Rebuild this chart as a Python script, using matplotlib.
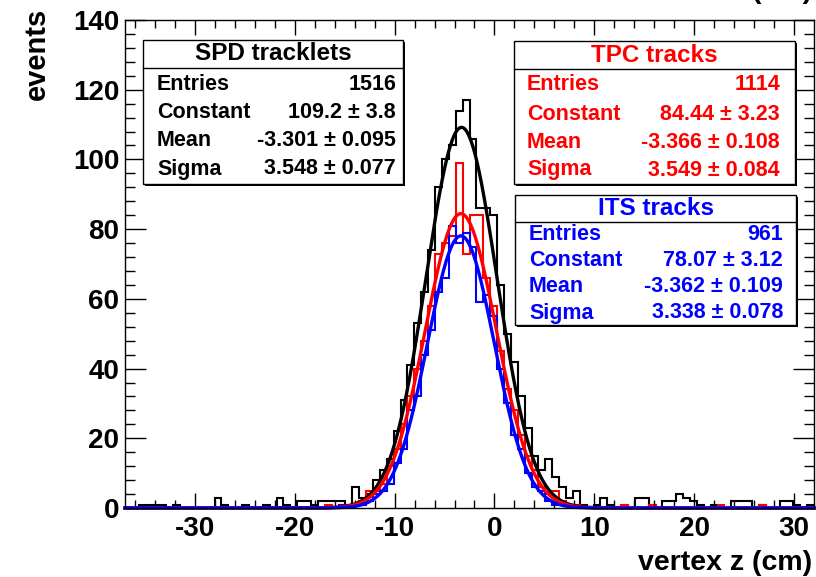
import matplotlib
matplotlib.use("Agg")
import matplotlib.pyplot as plt
import numpy as np
from matplotlib.patches import Rectangle

plt.rcParams['font.family'] = ['Liberation Sans', 'DejaVu Sans']
plt.rcParams['font.weight'] = 'bold'
plt.rcParams['axes.unicode_minus'] = False

# histogram binning (100 bins)
x_lo, x_hi, n_bins = -37.0, 32.0, 100

# bin contents
spd_counts = [0, 0, 1, 1, 1, 1, 0, 1, 0, 0,
              0, 0, 0, 3, 1, 0, 0, 1, 0, 0,
              1, 0, 3, 1, 0, 2, 2, 1, 2, 2,
              2, 2, 1, 6, 3, 4, 8, 11, 14, 22,
              31, 41, 53, 62, 74, 92, 100, 104, 114, 117,
              106, 86, 86, 84, 64, 50, 42, 32, 23, 15,
              11, 14, 9, 6, 3, 5, 1, 0, 1, 3,
              1, 0, 1, 0, 3, 3, 1, 0, 2, 2,
              4, 3, 2, 1, 0, 1, 0, 0, 2, 2,
              2, 0, 1, 0, 0, 2, 2, 1, 0, 1]
tpc_counts = [0, 0, 0, 0, 0, 0, 0, 0, 0, 0,
              0, 0, 0, 0, 0, 0, 0, 0, 0, 0,
              0, 0, 0, 0, 0, 0, 0, 0, 0, 1,
              0, 1, 1, 1, 2, 5, 5, 7, 12, 17,
              24, 32, 40, 48, 58, 73, 76, 78, 99, 73,
              84, 84, 66, 58, 45, 34, 28, 21, 15, 11,
              6, 4, 5, 2, 1, 1, 0, 0, 0, 0,
              0, 0, 1, 0, 0, 0, 1, 0, 0, 0,
              0, 0, 0, 0, 0, 0, 1, 0, 0, 0,
              0, 0, 1, 0, 0, 0, 0, 0, 0, 0]
its_counts = [0, 0, 0, 0, 0, 0, 0, 0, 0, 0,
              0, 0, 0, 0, 0, 0, 0, 0, 0, 0,
              0, 0, 0, 0, 0, 0, 0, 0, 0, 0,
              0, 1, 0, 1, 1, 2, 4, 5, 7, 13,
              17, 28, 32, 44, 51, 62, 66, 81, 76, 79,
              75, 59, 61, 55, 40, 30, 21, 17, 10, 6,
              5, 2, 1, 1, 1, 0, 0, 0, 0, 0,
              0, 0, 0, 0, 0, 0, 0, 0, 0, 0,
              0, 0, 0, 0, 0, 0, 0, 0, 0, 0,
              0, 0, 0, 0, 0, 0, 0, 0, 0, 0]

# gaussian fit results (constant, mean, sigma)
spd_fit = (109.2, -3.301, 3.548)
tpc_fit = (84.44, -3.366, 3.549)
its_fit = (78.07, -3.362, 3.338)

names = ['SPD tracklets', 'TPC tracks', 'ITS tracks']
entries = ['1516', '1114', '961']
constants = ['109.2 \u00b1 3.8', '84.44 \u00b1 3.23', '78.07 \u00b1 3.12']
means = ['-3.301 \u00b1 0.095', '-3.366 \u00b1 0.108', '-3.362 \u00b1 0.109']
sigmas = ['3.548 \u00b1 0.077', '3.549 \u00b1 0.084', '3.338 \u00b1 0.078']
colors = ['black', '#ff0000', '#0000ff']

W, H = 816, 577
fig = plt.figure(figsize=(W / 100, H / 100), dpi=100)
ax = fig.add_axes([125 / W, (H - 508) / H, (814 - 125) / W, (508 - 20) / H])

edges = np.linspace(x_lo, x_hi, n_bins + 1)
xf = np.linspace(x_lo, x_hi, 1500)

for counts, fit, c in zip([spd_counts, tpc_counts, its_counts],
                          [spd_fit, tpc_fit, its_fit], colors):
    ax.stairs(counts, edges, color=c, lw=1.5, clip_on=False)
    a, m, s = fit
    ax.plot(xf, a * np.exp(-0.5 * ((xf - m) / s) ** 2), color=c, lw=2.4,
            clip_on=False)

ax.set_xlim(x_lo, x_hi)
ax.set_ylim(0, 140)
ax.set_xticks(np.arange(-30, 31, 10))
ax.set_xticks(np.arange(-36, 32, 2), minor=True)
ax.set_yticks(np.arange(0, 141, 20))
ax.set_yticks(np.arange(0, 141, 4), minor=True)
ax.tick_params(which='both', direction='in', top=True, right=True, width=1,
               labelsize=20)
ax.tick_params(axis='x', which='major', length=11, pad=6)
ax.tick_params(axis='x', which='minor', length=5.5)
ax.tick_params(axis='y', which='major', length=15, pad=4)
ax.tick_params(axis='y', which='minor', length=7.5)
for sp in ax.spines.values():
    sp.set_linewidth(1)

fig.text(37 / W, 1 - 8 / H, 'events', rotation=90, ha='center', va='top',
         fontsize=21)
fig.text(812 / W, 1 - 570 / H, 'vertex z (cm)', ha='right', va='baseline',
         fontsize=20.5)
# title above the frame, almost entirely outside the picture
fig.text(812 / W, 1 + 1.5 / H, 'vertex z (cm)', ha='right', va='baseline',
         fontsize=20.5)


def stat_box(x0, x1, y0, y1, yhead, title, rows, c, lab_x, val_x, row_y):
    def fx(p):
        return p / W

    def fy(p):
        return 1 - p / H
    fig.add_artist(Rectangle((fx(x0 + 2), fy(y1 + 2)), fx(x1 - x0), (y1 - y0) / H,
                             transform=fig.transFigure, facecolor='black',
                             edgecolor='none', zorder=5))
    fig.add_artist(Rectangle((fx(x0), fy(y1)), fx(x1 - x0), (y1 - y0) / H,
                             transform=fig.transFigure, facecolor='white',
                             edgecolor='black', lw=1, zorder=6))
    fig.add_artist(plt.Line2D([fx(x0), fx(x1)], [fy(yhead), fy(yhead)],
                              transform=fig.transFigure, color='black', lw=1,
                              zorder=7))
    fig.text(fx((x0 + x1) / 2), fy((y0 + yhead) / 2), title, ha='center',
             va='center', fontsize=17.5, color=c, zorder=8)
    for (lab, val), yy in zip(rows, row_y):
        fig.text(fx(lab_x), fy(yy), lab, ha='left', va='center', fontsize=15.5,
                 color=c, zorder=8)
        fig.text(fx(val_x), fy(yy), val, ha='right', va='center', fontsize=15.5,
                 color=c, zorder=8)


labels = ['Entries', 'Constant', 'Mean', 'Sigma']
stat_box(143, 403, 40, 184, 68, names[0],
         list(zip(labels, [entries[0], constants[0], means[0], sigmas[0]])),
         colors[0], 157, 396, [84, 112, 141, 169])
stat_box(514, 795, 41, 184, 69, names[1],
         list(zip(labels, [entries[1], constants[1], means[1], sigmas[1]])),
         colors[1], 527, 780, [84, 114, 143, 170])
stat_box(515, 796, 195, 325, 222, names[2],
         list(zip(labels, [entries[2], constants[2], means[2], sigmas[2]])),
         colors[2], 529, 783, [235, 261, 287, 313])

fig.savefig('out.png', dpi=100)
